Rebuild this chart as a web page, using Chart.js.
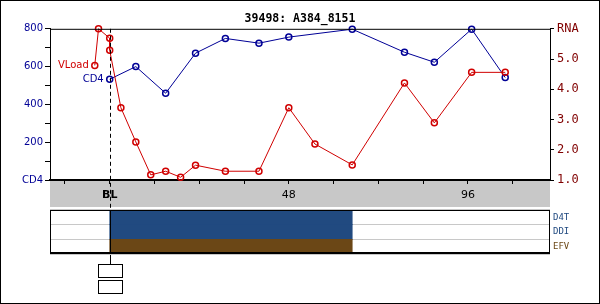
<!DOCTYPE html>
<html>
<head>
<meta charset="utf-8">
<script src="https://cdn.jsdelivr.net/npm/chart.js@4.4.1/dist/chart.umd.min.js"></script>
<style>
  body { margin: 0; background: #fff; }
  #wrap { position: relative; width: 600px; height: 304px; }
  #rxBox { position: absolute; left: 0; top: 204px; width: 600px; height: 56px; }
</style>
</head>
<body>
<div id="wrap">
  <canvas id="labChart" width="600" height="304"></canvas>
  <div id="rxBox"><canvas id="rxChart" width="600" height="56"></canvas></div>
</div>
<script>
// Data
const cd4Weeks = [0, 7, 15, 23, 31, 40, 48, 65, 79, 87, 97, 106];
const cd4Counts = [533, 600, 459, 671, 749, 724, 756, 798, 676, 623, 798, 542];

const vlWeeks = [-4, -3, 0, 0, 3, 7, 11, 15, 19, 23, 31, 40, 48, 55, 65, 79, 87, 97, 106];
const vlLogs = [4.79, 6.0, 5.69, 5.29, 3.39, 2.26, 1.17, 1.29, 1.09, 1.49, 1.29, 1.29, 3.39, 2.19, 1.5, 4.21, 2.89, 4.56, 4.56];

const xTicks = [-12, 0, 12, 24, 36, 48, 60, 72, 84, 96, 108];
const xTickLabels = ['', 'BL', '', '', '', '48', '', '', '', '96', ''];

const cd4Ticks = [0, 100, 200, 300, 400, 500, 600, 700, 800];
const cd4TickLabels = ['CD4', '', '200', '', '400', '', '600', '', '800'];

const rnaTicks = [1.0, 1.5, 2.0, 2.5, 3.0, 3.5, 4.0, 4.5, 5.0, 5.5, 6.0];
const rnaTickLabels = ['1.0', '', '2.0', '', '3.0', '', '4.0', '', '5.0', '', 'RNA'];

const rxNames = ['D4T', 'DDI', 'EFV'];
const rxStart = [0, 0, 0];
const rxStop = [65, 65, 65];
const rxColors = ['#214A80', '#214A80', '#6B4716'];

const blWeek = 0;

const BLUE = '#000096';
const RED = '#D00000';

// Lab chart decorations
const labDecor = {
    id: 'labDecor',
    beforeDraw(chart) {
        const c = chart.ctx, a = chart.chartArea;
        c.save();
        c.fillStyle = '#fff';
        c.fillRect(0, 0, chart.width, chart.height);
        c.fillStyle = '#C8C8C8';
        c.fillRect(a.left, a.bottom, a.right - a.left, 27);
        c.restore();
    },
    afterDraw(chart) {
        const c = chart.ctx, a = chart.chartArea;
        const x0 = Math.round(chart.scales.x.getPixelForValue(blWeek)) + 0.5;
        c.save();
        c.strokeStyle = '#000';
        c.lineWidth = 1;
        // top frame line
        c.beginPath();
        c.moveTo(a.left, a.top + 0.5);
        c.lineTo(a.right, a.top + 0.5);
        c.stroke();
        // baseline marker
        c.setLineDash([4, 3]);
        c.beginPath();
        c.moveTo(x0, a.top);
        c.lineTo(x0, 210);
        c.stroke();
        c.setLineDash([]);
        c.beginPath();
        c.moveTo(x0, 254);
        c.lineTo(x0, 264);
        c.stroke();
        c.strokeRect(x0 - 12, 264.5, 24, 13);
        c.strokeRect(x0 - 12, 280.5, 24, 13);
        // outer border
        c.strokeRect(0.5, 0.5, chart.width - 1, chart.height - 1);
        // series names beside the first point
        c.font = '10px "DejaVu Sans"';
        c.textAlign = 'right';
        c.textBaseline = 'middle';
        chart.data.datasets.forEach((ds, i) => {
            const p = chart.getDatasetMeta(i).data[0];
            c.fillStyle = ds.borderColor;
            c.fillText(ds.label, p.x - 6, p.y);
        });
        c.restore();
    }
};

new Chart(document.getElementById('labChart'), {
    type: 'scatter',
    data: {
        datasets: [
            { label: 'VLoad', data: vlWeeks.map((w, i) => ({ x: w, y: vlLogs[i] })), yAxisID: 'y1',
              showLine: true, borderColor: RED, borderWidth: 1, pointRadius: 3, pointBorderWidth: 1.5,
              pointBorderColor: RED, pointBackgroundColor: 'rgba(0,0,0,0)', clip: false },
            { label: 'CD4', data: cd4Weeks.map((w, i) => ({ x: w, y: cd4Counts[i] })), yAxisID: 'y',
              showLine: true, borderColor: BLUE, borderWidth: 1, pointRadius: 3, pointBorderWidth: 1.5,
              pointBorderColor: BLUE, pointBackgroundColor: 'rgba(0,0,0,0)', clip: false }
        ]
    },
    options: {
        responsive: false,
        animation: false,
        layout: { padding: 0 },
        plugins: {
            legend: { display: false },
            tooltip: { enabled: false },
            title: { display: true, text: '39498: A384_8151', color: '#000',
                     font: { family: 'DejaVu Sans Mono', size: 11.5, weight: 'bold' },
                     padding: { top: 12, bottom: 3 } }
        },
        scales: {
            x: {
                type: 'linear', min: -16, max: 118,
                afterBuildTicks: s => { s.ticks = xTicks.map(v => ({ value: v })); },
                afterFit: s => { s.height = 124; },
                grid: { drawOnChartArea: false, tickLength: 4, color: '#000' },
                border: { color: '#000', width: 2 },
                ticks: {
                    autoSkip: false, maxRotation: 0, padding: 5, color: '#000',
                    callback: (v, i) => xTickLabels[i],
                    font: ctx => ({ family: 'DejaVu Sans', size: 11, weight: ctx.index === 1 ? 'bold' : 'normal' })
                }
            },
            y: {
                position: 'left', min: 0, max: 800,
                afterBuildTicks: s => { s.ticks = cd4Ticks.map(v => ({ value: v })); },
                afterFit: s => { s.width = 50; },
                grid: { drawOnChartArea: false, tickLength: 5, color: '#000' },
                border: { color: '#000', width: 1 },
                ticks: { padding: 2, color: BLUE, font: { family: 'DejaVu Sans', size: 10 },
                         callback: (v, i) => cd4TickLabels[i] }
            },
            y1: {
                position: 'right', min: 1, max: 6,
                afterBuildTicks: s => { s.ticks = rnaTicks.map(v => ({ value: v })); },
                afterFit: s => { s.width = 50; },
                grid: { drawOnChartArea: false, tickLength: 4, color: '#000' },
                border: { color: '#000', width: 1 },
                ticks: { padding: 3, color: '#800000', font: { family: 'DejaVu Sans Mono', size: 12 },
                         callback: (v, i) => rnaTickLabels[i] }
            }
        }
    },
    plugins: [labDecor]
});

// Treatment chart frame
const rxFrame = {
    id: 'rxFrame',
    afterDraw(chart) {
        const c = chart.ctx, a = chart.chartArea;
        const x0 = Math.round(chart.scales.x.getPixelForValue(blWeek)) + 0.5;
        c.save();
        c.strokeStyle = '#000';
        c.lineWidth = 1;
        c.beginPath();
        c.moveTo(x0, a.top);
        c.lineTo(x0, a.bottom);
        c.stroke();
        c.strokeRect(a.left + 0.5, a.top + 0.5, a.right - a.left - 1, a.bottom - a.top - 1);
        c.lineWidth = 2;
        c.beginPath();
        c.moveTo(a.left, a.bottom - 1);
        c.lineTo(a.right, a.bottom - 1);
        c.stroke();
        c.restore();
    }
};

new Chart(document.getElementById('rxChart'), {
    type: 'bar',
    data: {
        labels: rxNames,
        datasets: [{ data: rxStart.map((s, i) => [s, rxStop[i]]), backgroundColor: rxColors,
                     barPercentage: 1, categoryPercentage: 1, borderWidth: 0 }]
    },
    options: {
        indexAxis: 'y',
        responsive: false,
        animation: false,
        layout: { padding: { left: 50, top: 6, bottom: 6 } },
        plugins: { legend: { display: false }, tooltip: { enabled: false } },
        scales: {
            x: { type: 'linear', min: -16, max: 118, display: false },
            y: {
                position: 'right', z: 1,
                afterFit: s => { s.width = 50; s.paddingTop = 0; s.paddingBottom = 0; },
                grid: { color: '#C8C8C8', drawTicks: false, offset: true },
                border: { display: false },
                ticks: { padding: 3, color: ctx => rxColors[ctx.index],
                         font: { family: 'DejaVu Sans Mono', size: 9 } }
            }
        }
    },
    plugins: [rxFrame]
});
</script>
</body>
</html>
